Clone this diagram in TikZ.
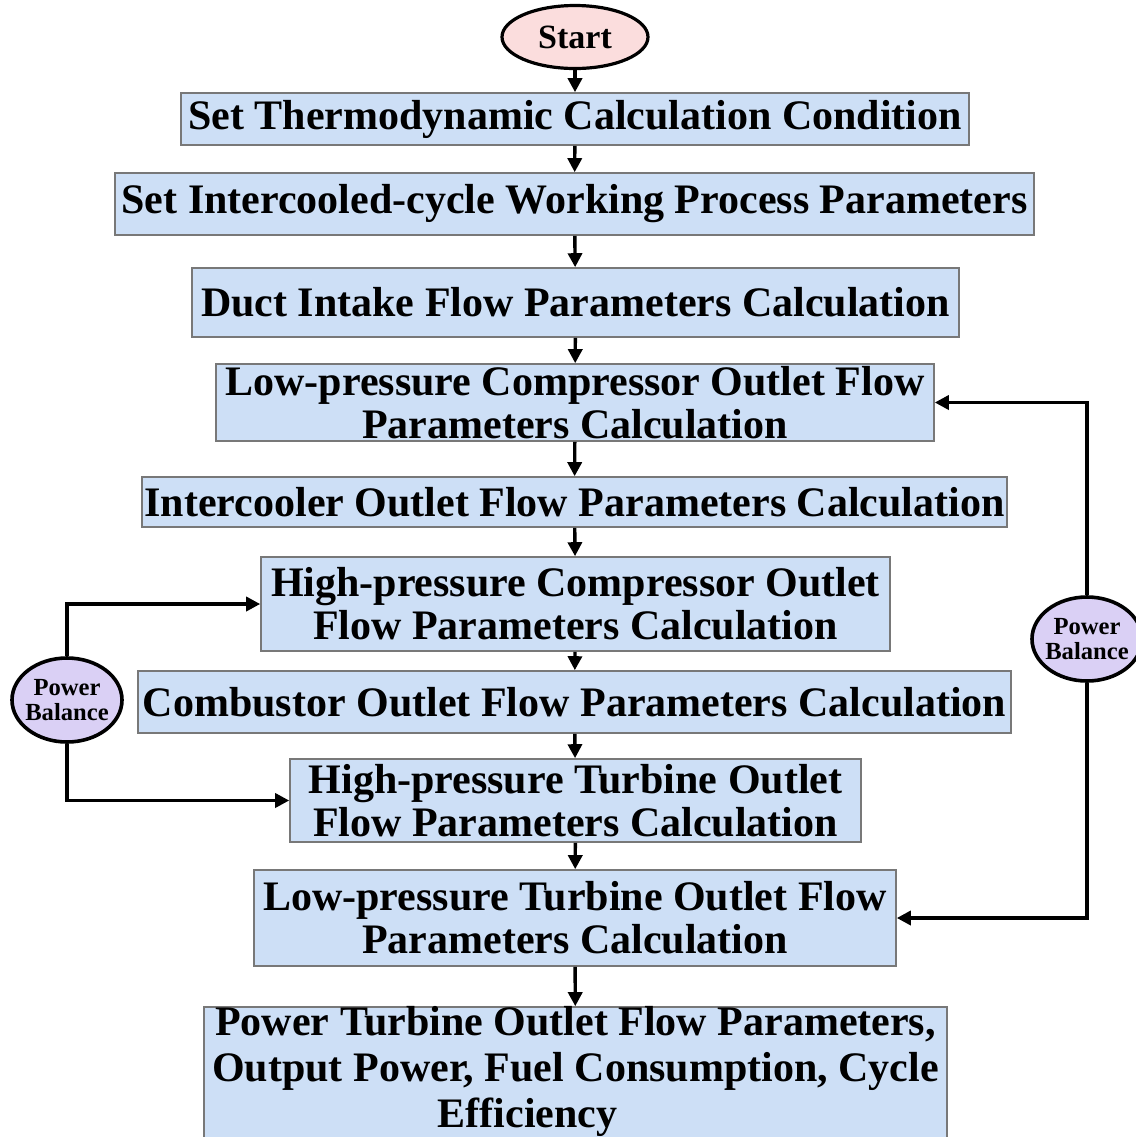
\documentclass[tikz,border=0pt]{standalone}
\usepackage{fontspec}
\setmainfont{Liberation Serif}
\usetikzlibrary{arrows.meta,shapes.geometric}
\definecolor{boxblue}{RGB}{205,223,246}
\definecolor{boxedge}{RGB}{120,120,120}
\definecolor{startpink}{RGB}{251,221,221}
\definecolor{pblilac}{RGB}{218,208,245}
\begin{document}
\begin{tikzpicture}[x=0.5pt,y=-0.5pt,
  flowbox/.style={draw=boxedge, fill=boxblue, line width=0.8pt, inner sep=0pt,
    font=\fontsize{21}{21.5}\selectfont\bfseries, align=center},
  startnode/.style={ellipse, draw=black, fill=startpink, line width=1.6pt, inner sep=0pt,
    minimum width=73pt, minimum height=31.5pt, font=\fontsize{17}{18}\selectfont\bfseries},
  pbnode/.style={ellipse, draw=black, fill=pblilac, line width=1.8pt, inner sep=0pt,
    minimum width=55pt, minimum height=42pt},
  pbtext/.style={align=center, inner sep=0pt, font=\fontsize{12.3}{12.5}\selectfont\bfseries},
  flowarrow/.style={-{Triangle[length=7pt,width=7pt]}, line width=1.7pt, draw=black}
]
\useasboundingbox (0,0) rectangle (1136,1137);
\clip (0,0) rectangle (1136,1137);

\node[startnode] (start) at (575,37) {Start};

\node[flowbox, minimum width=394pt, minimum height=26pt] (b1) at (575,119)
  {Set Thermodynamic Calculation Condition};
\node[flowbox, minimum width=459.5pt, minimum height=31pt] (b2) at (574.5,204)
  {Set Intercooled-cycle Working Process Parameters};
\node[flowbox, minimum width=383.5pt, minimum height=34.5pt] (b3) at (575.5,302.5)
  {Duct Intake Flow Parameters Calculation};
\node[flowbox, minimum width=359pt, minimum height=38.5pt] (b4) at (575,402.5)
  {Low-pressure Compressor Outlet Flow\\Parameters Calculation};
\node[flowbox, minimum width=432.5pt, minimum height=25pt] (b5) at (574.5,502)
  {Intercooler Outlet Flow Parameters Calculation};
\node[flowbox, minimum width=314.5pt, minimum height=47pt] (b6) at (575.5,604)
  {High-pressure Compressor Outlet\\Flow Parameters Calculation};
\node[flowbox, minimum width=436.5pt, minimum height=31pt] (b7) at (574.5,702)
  {Combustor Outlet Flow Parameters Calculation};
\node[flowbox, minimum width=285.5pt, minimum height=41.5pt] (b8) at (575.5,800.5)
  {High-pressure Turbine Outlet\\Flow Parameters Calculation};
\node[flowbox, minimum width=321pt, minimum height=48pt] (b9) at (575,918)
  {Low-pressure Turbine Outlet Flow\\Parameters Calculation};
\node[flowbox, minimum width=371.5pt, minimum height=76.5pt] (b10) at (575.5,1083.5) {};
\node[font=\fontsize{21}{23}\selectfont\bfseries, align=center, inner sep=0pt] (b10text) at (575.5,1071)
  {Power Turbine Outlet Flow Parameters,\\Output Power, Fuel Consumption, Cycle\\Efficiency\hspace*{48pt}};

\node[pbnode] (pbl) at (67,700) {};
\node[pbtext] (pbltext) at (pbl.center) {Power\\Balance};
\node[pbnode] (pbr) at (1087,639) {};
\node[pbtext] (pbrtext) at (pbr.center) {Power\\Balance};

\draw[flowarrow] (start) -- (b1);
\draw[flowarrow] (b1) -- (b2);
\draw[flowarrow] (b2) -- (b3);
\draw[flowarrow] (b3) -- (b4);
\draw[flowarrow] (b4) -- (b5);
\draw[flowarrow] (b5) -- (b6);
\draw[flowarrow] (b6) -- (b7);
\draw[flowarrow] (b7) -- (b8);
\draw[flowarrow] (b8) -- (b9);
\draw[flowarrow] (b9) -- (b10);

\draw[flowarrow] (pbl.north) |- (b6.west);
\draw[flowarrow] (pbl.south) |- (b8.west);
\draw[flowarrow] (pbr.north) |- (b4.east);
\draw[flowarrow] (pbr.south) |- (b9.east);
\end{tikzpicture}
\end{document}
